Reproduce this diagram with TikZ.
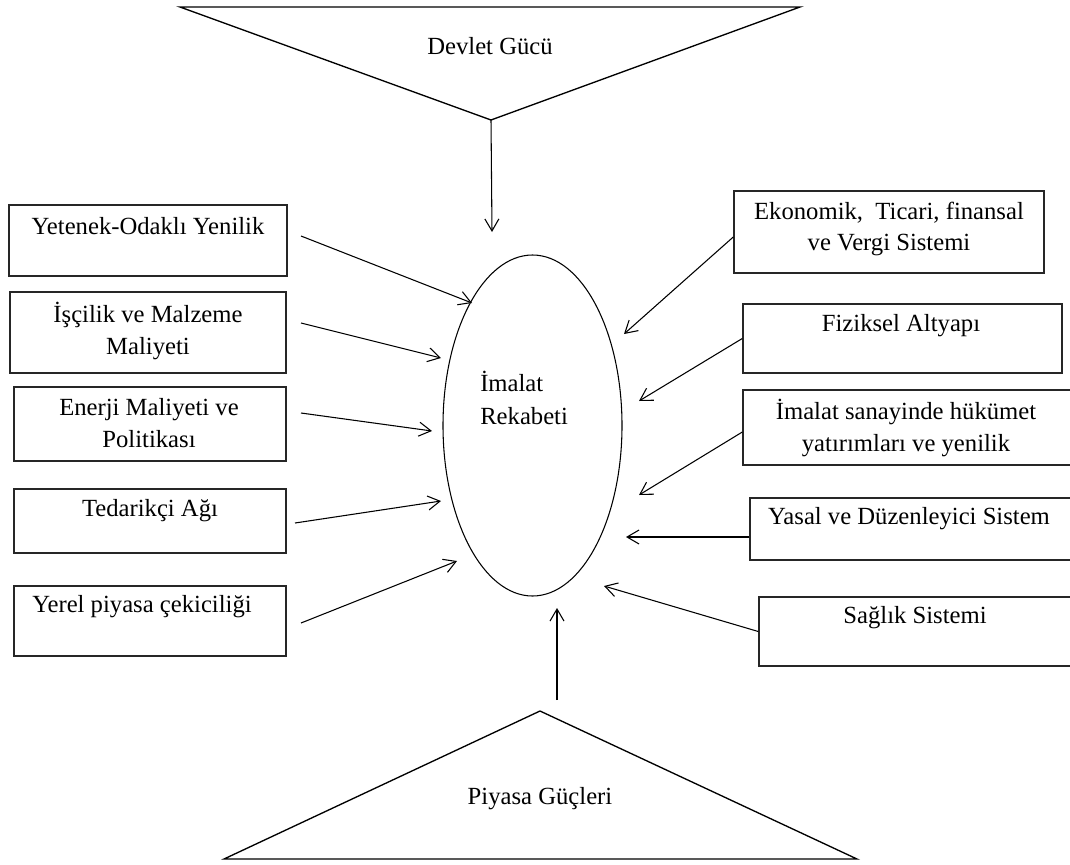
\documentclass[tikz,border=0pt]{standalone}
\usepackage{fontspec}
\setmainfont{Liberation Serif}
\usetikzlibrary{arrows.meta,shapes.geometric}
\begin{document}
\begin{tikzpicture}[x=0.75pt,y=-0.75pt,
  box/.style={draw=black!85, line width=1.1pt, rectangle, inner sep=0pt},
  lbl/.style={font=\fontsize{18.5}{23.5}\selectfont, align=center, inner sep=0pt},
  arr/.style={line width=0.8pt, -{Straight Barb[length=9pt,width=10.5pt]}},
  tri/.style={line width=1pt, line join=miter}]
\useasboundingbox (0,0) rectangle (1070,864);

% central ellipse
\node[draw, ellipse, line width=0.8pt, inner sep=0pt,
      minimum width=134.25pt, minimum height=255.75pt] (core) at (532.5,425.5) {};
\node[lbl, align=left, anchor=west, font=\fontsize{18.5}{25}\selectfont] (coret) at (480,398) {İmalat\\Rekabeti};

% top triangle: state power
\coordinate (tl) at (180,7);
\coordinate (tr) at (800,7);
\coordinate (tapex) at (491,120);
\draw[tri] (tl) -- (tr) -- (tapex) -- cycle;
\node[lbl] (devlet) at (490,46) {Devlet Gücü};
\coordinate (ttip) at (492,232);
\draw[arr] (tapex) -- (ttip);

% bottom triangle: market forces
\coordinate (bl) at (224,859);
\coordinate (br) at (857,859);
\coordinate (bapex) at (540,711);
\draw[tri] (bl) -- (br) -- (bapex) -- cycle;
\node[lbl] (piyasa) at (540,799) {Piyasa Güçleri};
\coordinate (bfoot) at (557,700);
\coordinate (btip) at (557,608);
\draw[arr] (bfoot) -- (btip);

% left boxes
\node[box, minimum width=208.5pt, minimum height=53.25pt] (l1) at (148,240.5) {};
\node[box, minimum width=207pt,   minimum height=60.75pt] (l2) at (148,332.5) {};
\node[box, minimum width=204pt,   minimum height=55.5pt]  (l3) at (150,424) {};
\node[box, minimum width=204pt,   minimum height=48pt]    (l4) at (150,521) {};
\node[box, minimum width=204pt,   minimum height=52.5pt]  (l5) at (150,621) {};

\node[lbl] (l1t) at (148,226) {Yetenek-Odaklı Yenilik};
\node[lbl] (l2t) at (148,331) {İşçilik ve Malzeme\\Maliyeti};
\node[lbl] (l3t) at (149,423) {Enerji Maliyeti ve\\Politikası};
\node[lbl] (l4t) at (150,511) {Tedarikçi Ağı};
\node[lbl] (l5t) at (142,607) {Yerel piyasa çekiciliği};

% right boxes (the lower three run past the right edge)
\node[box, minimum width=232.5pt,  minimum height=61.5pt]  (r1) at (889,232) {};
\node[box, minimum width=239.25pt, minimum height=51.75pt] (r2) at (902.5,338.5) {};
\node[box, minimum width=249pt,    minimum height=56.25pt] (r3) at (909,427.5) {};
\node[box, minimum width=243.75pt, minimum height=46.5pt]  (r4) at (912.5,529) {};
\node[box, minimum width=237pt,    minimum height=51.75pt] (r5) at (917,631.5) {};

\node[lbl] (r1t) at (889,229) {Ekonomik,\ \ Ticari, finansal\\ve Vergi Sistemi};
\node[lbl] (r2t) at (901,326) {Fiziksel Altyapı};
\node[lbl] (r3t) at (906,428) {İmalat sanayinde hükümet\\yatırımları ve yenilik};
\node[lbl] (r4t) at (909,519) {Yasal ve Düzenleyici Sistem};
\node[lbl] (r5t) at (915,618) {Sağlık Sistemi};

% arrow ends
\coordinate (ls1) at (301,236); \coordinate (le1) at (472,303);
\coordinate (ls2) at (301,323); \coordinate (le2) at (441,358);
\coordinate (ls3) at (301,413); \coordinate (le3) at (432,431);
\coordinate (ls4) at (295,523); \coordinate (le4) at (441,501);
\coordinate (ls5) at (301,623); \coordinate (le5) at (457,561);

\coordinate (re1) at (624,334);
\coordinate (re2) at (639,401);
\coordinate (re3) at (639,495);
\coordinate (re4) at (626,537);
\coordinate (re5) at (604,586);

% left influences
\draw[arr] (ls1) -- (le1);
\draw[arr] (ls2) -- (le2);
\draw[arr] (ls3) -- (le3);
\draw[arr] (ls4) -- (le4);
\draw[arr] (ls5) -- (le5);

% right influences
\draw[arr] ([yshift=-3.75pt]r1.west) -- (re1);
\draw[arr] (r2.west) -- (re2);
\draw[arr] ([yshift=-3.4pt]r3.west) -- (re3);
\draw[arr] ([yshift=-6pt]r4.west) -- (re4);
\draw[arr] (r5.west) -- (re5);
\end{tikzpicture}
\end{document}
